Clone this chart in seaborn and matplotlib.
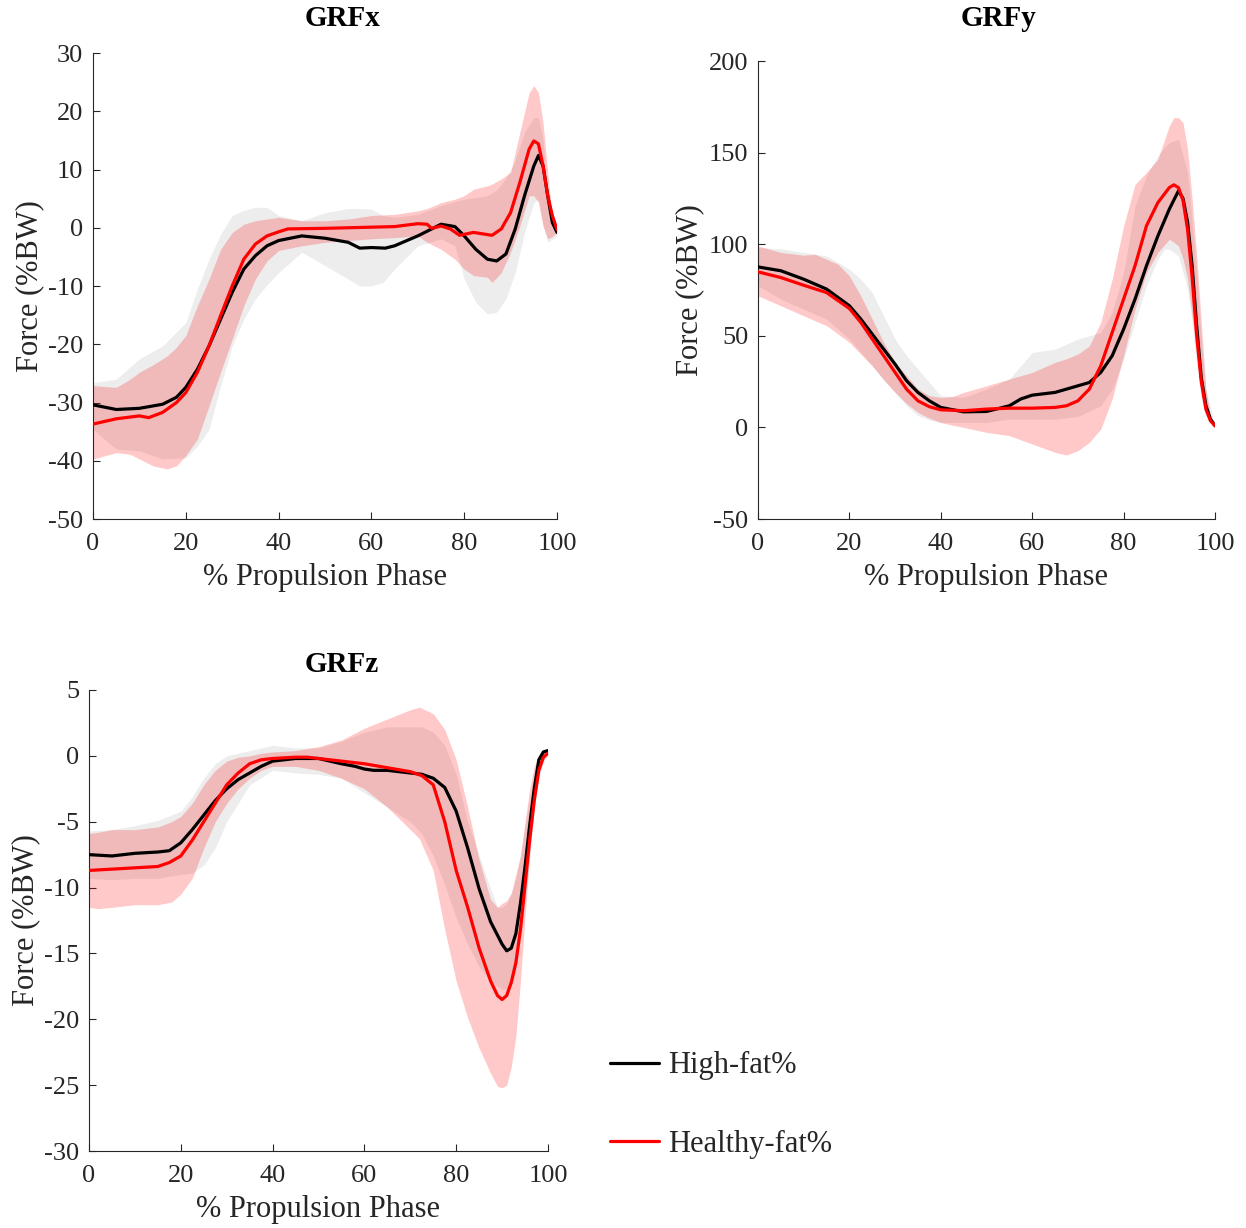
import numpy as np
import pandas as pd
import matplotlib
matplotlib.use("Agg")
import matplotlib.pyplot as plt
import seaborn as sns
from matplotlib.lines import Line2D

# ---------------- GRFx ----------------
gx_hf_x = [0,5,10,15,18,20,22.5,25,27.5,30,32.5,35,37.5,40,45,50,55,57.5,60,63,65,70,75,78,80,82.5,85,87,89,91,93,95,96,97,98,99,100]
gx_hf_y = [-30.4,-31.2,-31.0,-30.3,-29.1,-27.4,-24.3,-20.3,-15.7,-11.1,-7.1,-4.8,-3.1,-2.2,-1.4,-1.8,-2.5,-3.5,-3.4,-3.5,-3.1,-1.4,0.6,0.2,-1.4,-3.7,-5.4,-5.7,-4.5,-0.2,5.5,10.6,12.4,10.6,5.5,0.9,-0.8]
gx_hy_x = [0,5,10,12,15,18,20,22.5,25,27.5,30,32.5,35,37.5,40,42,50,60,65,70,72,73,75,77,79,82,86,88,90,92,94,95,96,97,98,99,100]
gx_hy_y = [-33.7,-32.8,-32.3,-32.6,-31.7,-30.0,-28.3,-24.8,-20.3,-15.1,-10.0,-5.4,-2.8,-1.4,-0.7,-0.2,-0.1,0.1,0.2,0.7,0.6,-0.1,0.3,-0.2,-1.3,-0.8,-1.3,-0.2,2.6,7.8,13.5,14.9,14.4,10.6,5.5,2.1,-0.3]
gx_hf_band_x = [0,5,10,15,20,22.5,25,27.5,30,32.5,35,37.5,40,45,50,55,57.5,60,62.5,65,70,75,78,80,82.5,85,87,89,91,93,95,96,97,98,100]
gx_hf_up = [-26.6,-26.0,-22.5,-20.3,-16.3,-10.5,-5.4,-1.1,2.1,3.0,3.5,3.5,2.1,1.2,2.6,3.3,3.3,3.2,2.1,1.8,2.3,3.8,4.5,4.9,5.2,5.5,6.5,8.5,11.5,16.4,18.9,18.9,15.2,4.9,-0.2]
gx_hf_lo = [-34.6,-38.0,-38.3,-39.7,-39.5,-37.5,-34.6,-27.1,-20.3,-15.7,-12.2,-9.8,-7.7,-4.2,-6.5,-8.8,-10.0,-10.0,-9.4,-7.1,-3.1,-1.9,-3.1,-8.8,-12.8,-14.8,-14.5,-12.2,-7.7,-0.8,4.3,4.9,0.3,-2.5,-1.4]
gx_hy_band_x = [0,5,8,10,13,16,18,20,22.5,25,27.5,30,32.5,35,37.5,40,45,50,55,60,65,70,72,75,78,80,82,85,86,88,90,92,94,95,96,97,98,99,100]
gx_hy_up = [-27.1,-27.4,-26.0,-24.8,-23.5,-22.0,-20.5,-18.5,-13.4,-8.8,-3.7,-0.8,0.6,1.2,1.5,1.8,1.2,1.2,1.5,2.1,2.3,2.9,3.3,4.3,4.9,5.5,6.6,7.2,7.5,8.4,9.5,16.4,23.2,24.4,23.2,18.0,9.5,1.5,-0.2]
gx_hy_lo = [-39.7,-38.6,-38.9,-39.7,-40.9,-41.4,-40.9,-39.1,-36.3,-30.6,-24.8,-19.1,-13.4,-8.8,-5.7,-3.9,-3.1,-2.5,-2.2,-1.9,-1.7,-1.4,-2.5,-3.7,-5.4,-7.1,-8.2,-8.5,-9.4,-7.7,-4.2,0.3,5.5,5.5,4.3,0.3,-1.9,-1.5,-0.8]

# ---------------- GRFy ----------------
gy_hf_x = [0,5,10,15,20,22.5,25,27.5,30,32.5,35,37.5,40,45,50,55,57.5,60,65,70,72.5,75,77.5,80,82.5,85,87.5,90,92,93,94,95,96,97,98,99,100]
gy_hf_y = [87.6,85.5,80.9,75.5,66.4,59.1,50.9,42.7,34.5,25.5,19.1,14.5,10.9,8.5,8.7,11.8,15.5,17.6,19.1,22.7,24.5,30.0,39.1,53.6,70.0,88.2,104.5,119.1,129.1,125.0,112.0,88.0,55.0,27.0,12.0,4.5,0.9]
gy_hy_x = [0,5,10,15,20,22.5,25,27.5,30,32.5,35,37.5,40,45,50,55,60,65,67.5,70,72.5,75,77.5,80,82.5,85,87.5,90,91,92,93,94,95,96,97,98,99,100]
gy_hy_y = [84.9,81.8,77.6,73.6,64.9,57.3,48.2,39.1,30.0,20.9,14.5,11.3,9.6,9.1,10.0,10.5,10.5,10.9,11.8,14.5,20.9,33.6,51.8,70.0,88.2,110.0,122.7,130.9,132.4,130.9,124.0,108.0,82.0,50.0,25.0,10.0,3.6,0.9]
gy_hf_band_x = [0,5,10,15,20,22.5,25,27.5,30,32.5,35,37.5,40,45,50,55,57.5,60,65,70,75,77.5,80,82.5,85,87.5,89,90,92,94,95,96,97,98,100]
gy_hf_up = [98.2,97.5,95.5,93.6,86.4,80.9,73.6,60.9,48.2,39.1,31.8,24.5,17.3,16.4,20.9,26.4,33.6,40.9,42.7,48.2,51.8,62.7,84.5,120.9,137.3,148.2,153.0,155.5,157.3,139.1,111.8,84.5,48.2,20.9,0.9]
gy_hf_lo = [77.3,70.0,64.5,59.1,48.2,41.0,33.6,26.0,19.1,12.0,6.4,4.0,2.7,2.7,2.7,4.5,4.5,4.5,4.5,6.0,11.8,20.9,37.3,57.3,77.3,91.8,97.3,97.3,93.6,75.5,57.3,33.6,15.5,6.4,0.9]
gy_hy_band_x = [0,5,10,12.5,15,17.5,20,22.5,25,27.5,30,32.5,35,37.5,40,42.5,45,50,55,60,65,67.5,70,72.5,75,77.5,80,82.5,85,87.5,90,91,92,93,94,95,96,97,98,99,100]
gy_hy_up = [99.1,95.5,94.0,94.5,91.8,89.1,82.7,71.8,59.1,46.4,35.5,28.2,20.9,17.3,16.4,16.8,19.1,22.7,26.4,30.0,35.5,37.5,40.0,44.5,57.3,80.9,110.0,132.7,139.1,146.4,164.5,169.1,169.1,166.4,151.8,124.5,93.6,57.3,20.9,6.0,0.9]
gy_hy_lo = [71.8,66.4,60.9,58.2,55.5,51.0,46.4,40.0,33.6,26.0,19.1,13.0,8.2,5.0,2.7,1.2,0.0,-2.7,-4.5,-9.1,-13.6,-15.1,-12.7,-8.2,-0.9,15.5,39.1,64.5,84.5,95.5,102.7,101.0,99.1,92.0,80.9,60.9,39.1,20.9,8.2,3.0,0.9]

# ---------------- GRFz ----------------
gz_hf_x = [0,5,10,15,17.5,20,22.5,25,27.5,30,32.5,35,37.5,40,45,50,55,58,60,62,65,70,72.5,75,77.5,80,82.5,85,87.5,90,91,92,93,94,95,96,97,98,99,100]
gz_hf_y = [-7.5,-7.6,-7.4,-7.3,-7.2,-6.6,-5.6,-4.5,-3.4,-2.5,-1.8,-1.3,-0.8,-0.4,-0.2,-0.2,-0.6,-0.8,-1.0,-1.1,-1.1,-1.3,-1.4,-1.7,-2.4,-4.2,-7.0,-10.1,-12.6,-14.3,-14.8,-14.6,-13.5,-11.2,-8.4,-5.3,-2.5,-0.3,0.3,0.4]
gz_hy_x = [0,5,10,15,17.5,20,22.5,25,27.5,30,32.5,35,37.5,40,45,47.5,50,55,60,65,70,72.5,75,77.5,80,82.5,85,87.5,89,90,91,92,93,94,95,96,97,98,99,100]
gz_hy_y = [-8.7,-8.6,-8.5,-8.4,-8.1,-7.6,-6.4,-5.0,-3.6,-2.2,-1.3,-0.6,-0.3,-0.2,-0.1,-0.1,-0.2,-0.4,-0.6,-0.9,-1.2,-1.5,-2.2,-5.0,-8.7,-11.5,-14.6,-17.1,-18.2,-18.5,-18.2,-17.2,-15.7,-13.2,-9.8,-6.4,-3.4,-1.1,-0.1,0.2]
gz_hf_band_x = [0,5,10,15,20,22.5,25,27.5,30,35,40,45,50,55,60,65,70,72.5,75,77.5,80,82.5,85,87.5,89,90,91,92,93,94,95,96,97,98,99,100]
gz_hf_up = [-5.7,-5.6,-5.3,-4.9,-4.2,-3.1,-1.7,-0.6,0.0,0.4,0.8,0.6,0.6,1.1,1.8,2.2,2.2,2.2,1.8,0.8,-1.4,-5.0,-7.6,-10.1,-11.5,-11.5,-11.2,-10.5,-9.3,-7.5,-5.3,-3.3,-1.4,0.0,0.4,0.6]
gz_hf_lo = [-9.3,-9.4,-9.3,-9.3,-9.0,-8.9,-8.3,-7.0,-5.0,-2.2,-1.1,-1.3,-1.4,-1.7,-2.8,-3.9,-5.0,-5.9,-7.6,-9.8,-12.3,-14.3,-16.0,-17.1,-17.5,-17.7,-17.7,-17.5,-16.3,-13.7,-10.9,-7.6,-4.2,-1.7,-0.5,0.1]
gz_hy_band_x = [0,2,5,10,15,18,20,22.5,25,27.5,30,32.5,35,37.5,40,45,50,55,60,65,70,72,75,77.5,80,82.5,85,87.5,89,90,91,92,93,94,95,96,97,98,99,100]
gz_hy_up = [-5.9,-5.8,-5.6,-5.6,-5.4,-5.0,-4.6,-3.6,-2.2,-1.1,-0.4,-0.1,0.0,0.2,0.3,0.4,0.7,1.2,2.1,2.8,3.5,3.7,3.2,2.0,-0.3,-3.9,-7.9,-10.9,-11.5,-11.2,-11.0,-10.4,-9.0,-7.6,-5.0,-2.5,-0.8,0.0,0.3,0.4]
gz_hy_lo = [-11.5,-11.6,-11.5,-11.3,-11.3,-11.1,-10.5,-9.3,-7.0,-5.0,-3.6,-2.5,-1.7,-1.1,-0.8,-0.8,-1.1,-1.7,-2.5,-3.9,-5.6,-6.3,-8.7,-13.2,-17.1,-19.9,-22.2,-24.1,-25.1,-25.2,-25.0,-23.6,-21.3,-17.1,-12.1,-7.6,-3.9,-1.4,-0.3,0.1]

titles = ["GRFx", "GRFy", "GRFz"]
group_labels = ["High-fat%", "Healthy-fat%"]
xlabel = "% Propulsion Phase"
ylabel = "Force (%BW)"
yticks_x = [-50, -40, -30, -20, -10, 0, 10, 20, 30]
yticks_y = [-50, 0, 50, 100, 150, 200]
yticks_z = [-30, -25, -20, -15, -10, -5, 0, 5]
xticks = [0, 20, 40, 60, 80, 100]

sns.set_theme(style="white")
plt.rcParams['font.family'] = ['Liberation Serif', 'DejaVu Serif']
plt.rcParams['axes.unicode_minus'] = False
plt.rcParams['mathtext.default'] = 'regular'

AX_C = '#262626'
fig = plt.figure(figsize=(12.46, 12.28), dpi=100)

panels = [
    dict(rect=[93/1246, 1-519/1228, 464/1246, 466/1228], title=titles[0], tpos=(342, 19),
         hf=(gx_hf_x, gx_hf_y), hy=(gx_hy_x, gx_hy_y),
         hfb=(gx_hf_band_x, gx_hf_lo, gx_hf_up), hyb=(gx_hy_band_x, gx_hy_lo, gx_hy_up),
         yt=yticks_x),
    dict(rect=[758/1246, 1-519/1228, 457/1246, 458/1228], title=titles[1], tpos=(998, 19),
         hf=(gy_hf_x, gy_hf_y), hy=(gy_hy_x, gy_hy_y),
         hfb=(gy_hf_band_x, gy_hf_lo, gy_hf_up), hyb=(gy_hy_band_x, gy_hy_lo, gy_hy_up),
         yt=yticks_y),
    dict(rect=[89/1246, 1-1151/1228, 459/1246, 461/1228], title=titles[2], tpos=(342, 665),
         hf=(gz_hf_x, gz_hf_y), hy=(gz_hy_x, gz_hy_y),
         hfb=(gz_hf_band_x, gz_hf_lo, gz_hf_up), hyb=(gz_hy_band_x, gz_hy_lo, gz_hy_up),
         yt=yticks_z),
]

for p in panels:
    ax = fig.add_axes(p['rect'])
    bx, blo, bup = p['hfb']
    ax.fill_between(bx, blo, bup, color=(0.5, 0.5, 0.5), alpha=0.14, linewidth=0, zorder=1)
    rx, rlo, rup = p['hyb']
    ax.fill_between(rx, rlo, rup, color=(1.0, 0.0, 0.0), alpha=0.21, linewidth=0, zorder=2)
    df_hf = pd.DataFrame({'x': p['hf'][0], 'y': p['hf'][1]})
    df_hy = pd.DataFrame({'x': p['hy'][0], 'y': p['hy'][1]})
    sns.lineplot(data=df_hf, x='x', y='y', ax=ax, color='black', linewidth=2.3, zorder=3)
    sns.lineplot(data=df_hy, x='x', y='y', ax=ax, color='#ff0000', linewidth=2.3, zorder=4)
    ax.set_xlim(0, 100)
    ax.set_ylim(p['yt'][0], p['yt'][-1])
    ax.set_xticks(xticks)
    ax.set_yticks(p['yt'])
    ax.set_xticklabels([str(t) for t in xticks])
    ax.set_yticklabels([str(t) for t in p['yt']])
    for s in ['top', 'right']:
        ax.spines[s].set_visible(False)
    for s in ['left', 'bottom']:
        ax.spines[s].set_color(AX_C)
        ax.spines[s].set_linewidth(0.8)
    ax.tick_params(direction='in', length=5, width=0.8, colors=AX_C, labelsize=19,
                   labelcolor=AX_C, left=True, bottom=True)
    ax.tick_params(axis='y', pad=7)
    ax.tick_params(axis='x', pad=10)
    ax.set_xlabel(xlabel, fontsize=22, color=AX_C, labelpad=6)
    ax.set_ylabel(ylabel, fontsize=22, color=AX_C, labelpad=3)
    ax.set_facecolor('white')
    ax.grid(False)
    fig.text(p['tpos'][0]/1246, 1-p['tpos'][1]/1228, p['title'], ha='center', va='center',
             fontsize=21, fontweight='bold', color='black')

handles = [Line2D([0], [0], color='black', lw=2.3), Line2D([0], [0], color='#ff0000', lw=2.3)]
fig.legend(handles, group_labels, loc='center left',
           bbox_to_anchor=(610/1246, 1-1105/1228), frameon=False, fontsize=22,
           handlelength=1.6, handletextpad=0.3, labelspacing=1.62, borderpad=0,
           borderaxespad=0)

fig.savefig('out.png', dpi=100, facecolor='white')
